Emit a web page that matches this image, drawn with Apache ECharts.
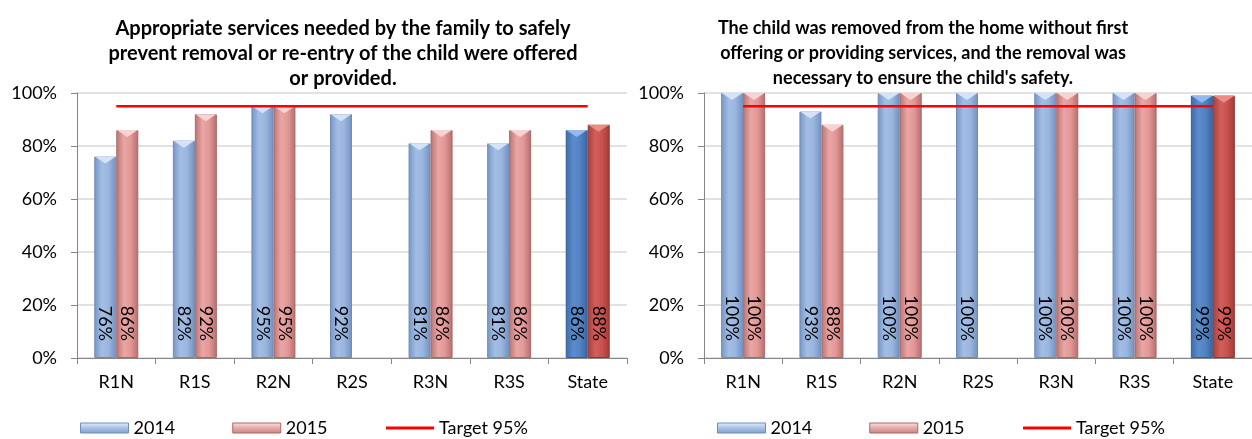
<!DOCTYPE html>
<html>
<head>
<meta charset="utf-8">
<script src="https://cdn.jsdelivr.net/npm/echarts/dist/echarts.min.js"></script>
<style>
  html, body { margin: 0; padding: 0; background: #ffffff; }
  #chart { width: 1252px; height: 439px; }
</style>
</head>
<body>
<div id="chart"></div>
<script>
// Regions shown on both panels
const categories = ['R1N', 'R1S', 'R2N', 'R2S', 'R3N', 'R3S', 'State'];

// Panel 1: appropriate services offered or provided (%)
const servicesOffered2014 = [76, 82, 95, 92, 81, 81, 86];
const servicesOffered2015 = [86, 92, 95, null, 86, 86, 88];

// Panel 2: removal necessary without first offering services (%)
const removalNecessary2014 = [100, 93, 100, 100, 100, 100, 99];
const removalNecessary2015 = [100, 88, 100, null, 100, 100, 99];

// Performance target (%)
const targetPercent = 95;

// Value axis ticks (%)
const yMin = 0;
const yMax = 100;
const yStep = 20;

const panelTitles = [
  'Appropriate services needed by the family to safely\nprevent removal or re-entry of the child were offered\nor provided.',
  'The child was removed from the home without first\noffering or providing services, and the removal was\nnecessary to ensure the child\'s safety.'
];
const seriesNames = ['2014', '2015', 'Target 95%'];

const FONT = 'Lato, "Open Sans", sans-serif';
const AXIS_GREY = '#868686';
const TEXT_SIZE = 18;

// Colour sets: regular regions and the statewide total
const shades = {
  '2014': {
    body: ['#7695C3', '#A3BEE5', '#9AB6DF', '#7391BE'],
    cap: '#D3E3F8', border: '#6E8CB8',
    stateBody: ['#3D6BA8', '#5B8CCB', '#5283C3', '#3A66A0'],
    stateCap: '#94B9EC', stateBorder: '#355F97',
    legend: ['#E4EEFA', '#A9C2E4', '#7F9DC8'], legendBorder: '#6F8DB8'
  },
  '2015': {
    body: ['#B87473', '#EAA6A5', '#E29897', '#B46E6D'],
    cap: '#F8D3D2', border: '#A86867',
    stateBody: ['#A5403D', '#D25E5A', '#C9524F', '#9F3B38'],
    stateCap: '#EC8B88', stateBorder: '#8F3633',
    legend: ['#FBE3E3', '#E7AAA9', '#C58584'], legendBorder: '#A86867'
  }
};

function hGrad(stops) {
  return {
    type: 'linear', x: 0, y: 0, x2: 1, y2: 0,
    colorStops: [
      { offset: 0, color: stops[0] },
      { offset: 0.35, color: stops[1] },
      { offset: 0.65, color: stops[2] },
      { offset: 1, color: stops[3] }
    ]
  };
}

function vGrad(stops) {
  return {
    type: 'linear', x: 0, y: 0, x2: 0, y2: 1,
    colorStops: [
      { offset: 0, color: stops[0] },
      { offset: 0.5, color: stops[1] },
      { offset: 1, color: stops[2] }
    ]
  };
}

const lastIndex = categories.length - 1;

function barData(values, year) {
  const s = shades[year];
  return values.map((v, i) => ({
    value: v,
    itemStyle: i === lastIndex
      ? { color: hGrad(s.stateBody), borderColor: s.stateBorder, borderWidth: 1 }
      : { color: hGrad(s.body), borderColor: s.border, borderWidth: 1 }
  }));
}

function capData(values, year) {
  const s = shades[year];
  return values.map((v, i) => ({
    value: v,
    itemStyle: { color: i === lastIndex ? s.stateCap : s.cap }
  }));
}

const BAR_W = 22;

function panelSeries(idx, v2014, v2015) {
  const common = { xAxisIndex: idx, yAxisIndex: idx };
  const label = {
    show: true,
    position: 'insideBottom',
    distance: 17,
    rotate: -90,
    align: 'right',
    verticalAlign: 'middle',
    fontSize: TEXT_SIZE,
    fontFamily: FONT,
    color: '#000000',
    formatter: p => (p.value == null ? '' : p.value + '%')
  };
  const pairs = [['2014', v2014], ['2015', v2015]];
  const out = [];
  pairs.forEach(([year, vals]) => {
    out.push(Object.assign({
      type: 'bar', name: year, data: barData(vals, year),
      barWidth: BAR_W, barGap: '0%', z: 2, label
    }, common));
  });
  // bevelled top of each bar
  pairs.forEach(([year, vals]) => {
    out.push(Object.assign({
      type: 'pictorialBar', name: 'bevel ' + year, data: capData(vals, year),
      barWidth: BAR_W, barGap: '0%', z: 3,
      symbol: 'path://M0,0 L20,0 L10,7 Z', symbolSize: [BAR_W - 1, 7],
      symbolPosition: 'end', silent: true
    }, common));
  });
  out.push(Object.assign({
    type: 'line', name: seriesNames[2],
    data: categories.map(() => targetPercent),
    symbol: 'none', z: 5,
    lineStyle: { color: '#FF0000', width: 2.5 },
    itemStyle: { color: '#FF0000' }
  }, common));
  return out;
}

function xAxisFor(idx) {
  return {
    type: 'category', gridIndex: idx, data: categories,
    axisLine: { lineStyle: { color: AXIS_GREY, width: 1 } },
    axisTick: { show: true, interval: 0, length: 6, lineStyle: { color: AXIS_GREY } },
    axisLabel: { fontSize: TEXT_SIZE, fontFamily: FONT, color: '#000000', margin: 15, interval: 0 },
    splitLine: { show: false }
  };
}

function yAxisFor(idx) {
  return {
    type: 'value', gridIndex: idx, min: yMin, max: yMax, interval: yStep,
    axisLine: { show: true, lineStyle: { color: AXIS_GREY, width: 1 } },
    axisTick: { show: true, length: 6, lineStyle: { color: AXIS_GREY } },
    axisLabel: { fontSize: TEXT_SIZE, fontFamily: FONT, color: '#000000', margin: 20, formatter: '{value}%' },
    splitLine: { show: true, lineStyle: { color: '#D9D9D9', width: 1.5 } }
  };
}

function legendFor(left) {
  return {
    left: left, top: 414, orient: 'horizontal',
    itemWidth: 48, itemHeight: 10, itemGap: 57,
    textStyle: { fontSize: TEXT_SIZE, fontFamily: FONT, color: '#000000' },
    selectedMode: false,
    data: [
      { name: seriesNames[0], icon: 'rect', itemStyle: { color: vGrad(shades['2014'].legend), borderColor: shades['2014'].legendBorder, borderWidth: 1 } },
      { name: seriesNames[1], icon: 'rect', itemStyle: { color: vGrad(shades['2015'].legend), borderColor: shades['2015'].legendBorder, borderWidth: 1 } },
      { name: seriesNames[2], itemStyle: { color: 'rgba(0,0,0,0)', borderColor: 'rgba(0,0,0,0)', borderWidth: 0, opacity: 0 }, lineStyle: { color: '#FF0000', width: 3 } }
    ]
  };
}

const titleBase = { fontWeight: 'bold', fontFamily: FONT, color: '#000000', lineHeight: 25 };

const chart = echarts.init(document.getElementById('chart'), null, { renderer: 'canvas' });
chart.setOption({
  backgroundColor: '#ffffff',
  animation: false,
  title: [
    { text: panelTitles[0], left: 338, top: 11, textAlign: 'center', textStyle: Object.assign({ fontSize: 20 }, titleBase) },
    { text: panelTitles[1], left: 918, top: 11, textAlign: 'center', textStyle: Object.assign({ fontSize: 18 }, titleBase) }
  ],
  legend: [legendFor(75), legendFor(712)],
  grid: [
    { left: 77, top: 93, width: 550, height: 265 },
    { left: 704, top: 93, width: 553, height: 265 }
  ],
  xAxis: [xAxisFor(0), xAxisFor(1)],
  yAxis: [yAxisFor(0), yAxisFor(1)],
  series: [].concat(
    panelSeries(0, servicesOffered2014, servicesOffered2015),
    panelSeries(1, removalNecessary2014, removalNecessary2015)
  )
});
</script>
</body>
</html>
